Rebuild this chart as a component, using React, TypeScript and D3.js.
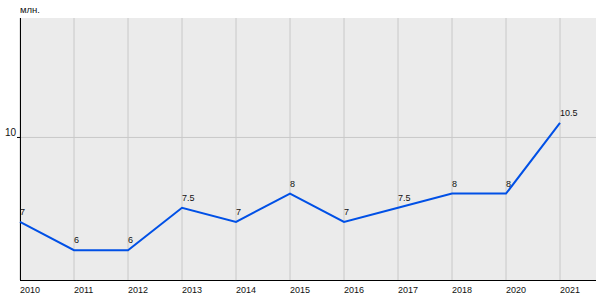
import React from "react";
import * as d3 from "d3";

const years = ["2010", "2011", "2012", "2013", "2014", "2015", "2016", "2017", "2018", "2020", "2021"];
const values = [7, 6, 6, 7.5, 7, 8, 7, 7.5, 8, 8, 10.5];
const yTicks = [10];
const yUnit = "млн.";

export default function App() {
  const W = 600, H = 300;
  const left = 20, right = 596, top = 18, bottom = 280;
  const x = d3.scalePoint<string>().domain(years).range([left, left + 54 * (years.length - 1)]);
  const y = d3.scaleLinear().domain([4.95, 14.2]).range([bottom, top]);
  const line = d3.line<number>().x((_, i) => x(years[i])!).y((d) => y(d));
  const font = "'Liberation Sans', Arial, sans-serif";
  return (
    <svg width={W} height={H} style={{ position: "absolute", left: 0, top: 0 }} fontFamily={font}>
      <rect x={left} y={top} width={right - left} height={bottom - top} fill="#ebebeb" />
      {years.map((yr) => (
        <line key={yr} x1={x(yr)} x2={x(yr)} y1={top} y2={bottom} stroke="#c8c8c8" strokeWidth={1} />
      ))}
      {yTicks.map((t) => (
        <g key={t}>
          <line x1={left} x2={right} y1={y(t) + 0.5} y2={y(t) + 0.5} stroke="#c8c8c8" strokeWidth={1} />
          <line x1={left - 3} x2={left} y1={y(t) + 0.5} y2={y(t) + 0.5} stroke="#000" strokeWidth={1} />
          <text x={left - 4} y={y(t) - 1} textAnchor="end" fontSize={10} fill="#111">{t}</text>
        </g>
      ))}
      <line x1={left + 0.5} x2={left + 0.5} y1={top} y2={bottom} stroke="#000" strokeWidth={1} />
      <line x1={left} x2={right} y1={bottom + 0.5} y2={bottom + 0.5} stroke="#000" strokeWidth={1} />
      <text x={left} y={13} fontSize={9.5} fill="#111">{yUnit}</text>
      {years.map((yr) => (
        <text key={yr} x={x(yr)} y={293} fontSize={9} fill="#111">{yr}</text>
      ))}
      <path d={line(values) ?? ""} fill="none" stroke="#0050e6" strokeWidth={2} />
      {values.map((v, i) => (
        <text key={i} x={x(years[i])} y={y(v) - 7} fontSize={9} fill="#111">{String(v)}</text>
      ))}
    </svg>
  );
}
